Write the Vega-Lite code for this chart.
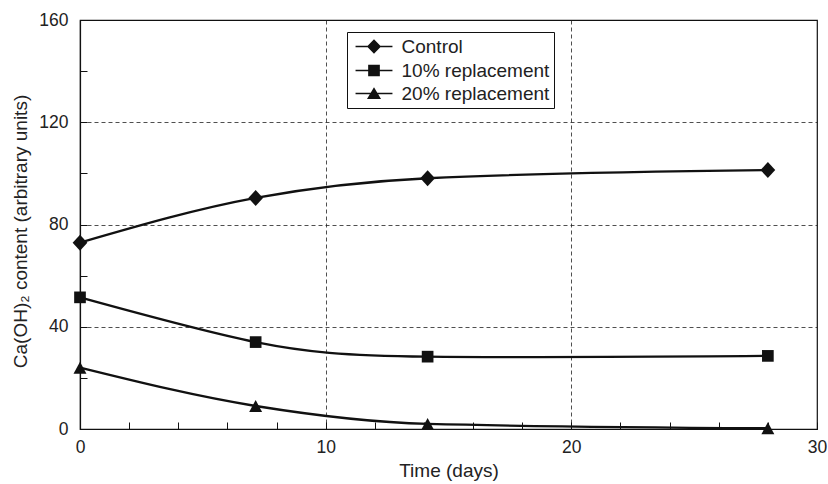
{
  "$schema": "https://vega.github.io/schema/vega-lite/v6.json",
  "width": 737,
  "height": 409,
  "autosize": "none",
  "padding": {"left": 80, "top": 20, "right": 11, "bottom": 55},
  "config": {
    "view": {"stroke": "#111", "strokeWidth": 1.2},
    "font": "Liberation Sans",
    "axis": {
      "domainColor": "#111",
      "domainWidth": 1.2,
      "tickColor": "#111",
      "labelColor": "#222",
      "titleColor": "#222",
      "labelFontSize": 17.5,
      "titleFontSize": 19,
      "titleFontWeight": "normal",
      "gridColor": "#222",
      "gridDash": [4, 3],
      "gridWidth": 0.8
    }
  },
  "data": {
    "values": [
      {"series": "Control", "time": 0, "value": 72.9},
      {"series": "Control", "time": 7.15, "value": 90.4},
      {"series": "Control", "time": 14.15, "value": 98.1},
      {"series": "Control", "time": 28, "value": 101.3},
      {"series": "10% replacement", "time": 0, "value": 51.5},
      {"series": "10% replacement", "time": 7.15, "value": 34},
      {"series": "10% replacement", "time": 14.15, "value": 28.3},
      {"series": "10% replacement", "time": 28, "value": 28.6},
      {"series": "20% replacement", "time": 0, "value": 24},
      {"series": "20% replacement", "time": 7.15, "value": 9},
      {"series": "20% replacement", "time": 14.15, "value": 2},
      {"series": "20% replacement", "time": 28, "value": 0.3}
    ]
  },
  "resolve": {"scale": {"shape": "independent"}},
  "layer": [
    {
      "transform": [{"filter": "datum.series !== '10% replacement'"}],
      "mark": {"type": "line", "interpolate": "monotone", "color": "#111", "strokeWidth": 2.3},
      "encoding": {
        "x": {
          "field": "time", "type": "quantitative",
          "scale": {"domain": [0, 30], "nice": false},
          "axis": {
            "title": "Time (days)",
            "values": [0, 2, 4, 6, 8, 10, 12, 14, 16, 18, 20, 22, 24, 26, 28, 30],
            "labelExpr": "datum.value % 10 === 0 ? datum.label : ''",
            "labelFlush": false,
            "tickSize": -7,
            "labelPadding": 16,
            "titlePadding": 6,
            "grid": true,
            "gridOpacity": {"expr": "(datum.value == 10 || datum.value == 20) ? 1 : 0"}
          }
        },
        "y": {
          "field": "value", "type": "quantitative",
          "scale": {"domain": [0, 160], "nice": false},
          "axis": {
            "title": "Ca(OH)₂ content (arbitrary units)",
            "values": [0, 10, 20, 30, 40, 50, 60, 70, 80, 90, 100, 110, 120, 130, 140, 150, 160],
            "labelExpr": "datum.value % 40 === 0 ? datum.label : ''",
            "tickSize": -7,
            "labelPadding": 19,
            "titlePadding": 8,
            "titleY": 211,
            "grid": true,
            "gridOpacity": {"expr": "(datum.value == 40 || datum.value == 80 || datum.value == 120) ? 1 : 0"}
          }
        },
        "detail": {"field": "series"}
      }
    },
    {
      "transform": [{"filter": "datum.series === '10% replacement'"}],
      "mark": {"type": "line", "interpolate": "natural", "color": "#111", "strokeWidth": 2.3},
      "encoding": {
        "x": {"field": "time", "type": "quantitative"},
        "y": {"field": "value", "type": "quantitative"},
        "detail": {"field": "series"}
      }
    },
    {
      "mark": {"type": "point", "filled": true, "color": "#111", "opacity": 0},
      "encoding": {
        "x": {"field": "time", "type": "quantitative"},
        "y": {"field": "value", "type": "quantitative"},
        "shape": {
          "field": "series", "type": "nominal",
          "scale": {
            "domain": ["Control", "10% replacement", "20% replacement"],
            "range": [
              "M-2.05,-0.075H2.05V0.075H-2.05ZM0,-0.8L0.78,0L0,0.8L-0.78,0Z",
              "M-2.05,-0.075H2.05V0.075H-2.05ZM-0.65,-0.65H0.65V0.65H-0.65Z",
              "M-2.05,-0.075H2.05V0.075H-2.05ZM0,-0.7L0.78,0.62H-0.78Z"
            ]
          },
          "legend": {
            "title": null,
            "orient": "none",
            "legendX": 267,
            "legendY": 12,
            "strokeColor": "#111",
            "fillColor": "white",
            "padding": 4.5,
            "labelFontSize": 19,
            "labelColor": "#222",
            "labelOffset": 17.5,
            "symbolOffset": 12.5,
            "symbolSize": 324,
            "symbolOpacity": 1,
            "symbolFillColor": "#111",
            "rowPadding": 3
          }
        }
      }
    },
    {
      "mark": {"type": "point", "filled": true, "color": "#111", "opacity": 1, "size": 256},
      "encoding": {
        "x": {"field": "time", "type": "quantitative"},
        "y": {"field": "value", "type": "quantitative"},
        "shape": {
          "field": "series", "type": "nominal",
          "scale": {
            "domain": ["Control", "10% replacement", "20% replacement"],
            "range": ["M0,-1L0.92,0L0,1L-0.92,0Z", "M-0.73,-0.73H0.73V0.73H-0.73Z", "M0,-0.75L0.81,0.75H-0.81Z"]
          },
          "legend": null
        }
      }
    }
  ]
}
